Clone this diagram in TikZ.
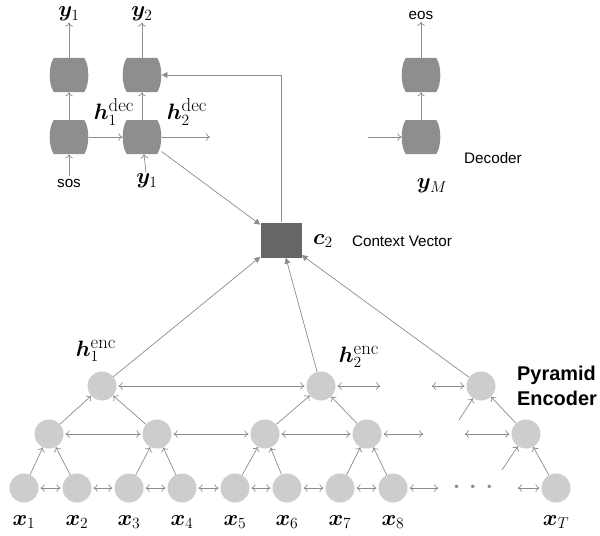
\RequirePackage{fix-cm}
\documentclass[tikz,border=0pt]{standalone}
\usepackage{fontspec}
\setsansfont{Liberation Sans}
\usepackage{bm}
\usetikzlibrary{arrows.meta}

\definecolor{linegray}{RGB}{140,140,140}
\definecolor{nodegray}{RGB}{205,205,205}
\definecolor{cellgray}{RGB}{142,142,142}
\definecolor{boxgray}{RGB}{102,102,102}

\newcommand\mathsz{\fontsize{19}{21}\selectfont}
\newcommand\textsz{\fontsize{13}{15}\selectfont\sffamily}
\newcommand\supname[1]{\mbox{\fontsize{16}{16}\selectfont #1}}

\tikzset{
  enc/.style={circle, fill=nodegray, minimum size=0.87cm, inner sep=0pt},
  % barrel shaped recurrent cell
  cell/.style={rectangle, minimum width=1.16cm, minimum height=1.02cm, inner sep=0pt,
    path picture={
      \fill[cellgray]
        ([xshift=0.12cm]path picture bounding box.north west)
        -- ([xshift=-0.12cm]path picture bounding box.north east)
        .. controls +(5.3,8) and +(5.3,-8) ..
           ([xshift=-0.12cm]path picture bounding box.south east)
        -- ([xshift=0.12cm]path picture bounding box.south west)
        .. controls +(-5.3,-8) and +(-5.3,8) ..
           ([xshift=0.12cm]path picture bounding box.north west) -- cycle;
    }},
  ctxbox/.style={rectangle, fill=boxgray, minimum width=1.23cm,
    minimum height=1.05cm, inner sep=0pt},
  mlabel/.style={inner sep=1pt, font=\mathsz},
  slabel/.style={inner sep=2pt, font=\textsz},
  feed/.style={->, draw=linegray, line width=0.6pt},
  pair/.style={<->, draw=linegray, line width=0.6pt, shorten >=1.5pt, shorten <=1.5pt},
  attn/.style={-{Triangle[length=5pt,width=5pt]}, draw=linegray, line width=0.6pt},
}

\begin{document}
\begin{tikzpicture}[x=0.03cm, y=-0.03cm, >={To[length=3.5pt,width=6.5pt]}]
  \useasboundingbox (0,0) rectangle (600,535);

  % encoder: inputs and the two pyramid levels
  \foreach \i/\x in {1/24,2/77,3/129,4/182,5/235,6/287,7/340,8/393,T/556} {
    \node[enc] (a\i) at (\x,488) {};
    \node[mlabel] (x\i) at (\x,522) {$\bm{x}_{\i}$};
  }
  \foreach \i/\x in {1/49,2/157,3/265,4/367,R/526}
    \node[enc] (b\i) at (\x,434) {};
  \node[enc] (h1) at (102,386) {};
  \node[enc] (h2) at (321,386) {};
  \node[enc] (hR) at (481,386) {};
  \node[mlabel] (he1) at (96,351) {$\bm{h}_1^{\supname{enc}}$};
  \node[mlabel] (he2) at (359,357) {$\bm{h}_2^{\supname{enc}}$};
  \node[text=linegray, font=\mathsz] (dots) at (473,487)
    {$\bm{\cdot}$\hspace{0.28cm}$\bm{\cdot}$\hspace{0.28cm}$\bm{\cdot}$};
  \node[align=left, inner sep=0pt, font=\fontsize{17}{21}\selectfont\sffamily\bfseries]
    (encname) at (557,386) {Pyramid\\Encoder};

  % loose ends of the encoder rows
  \coordinate (s0r) at (440,488);
  \coordinate (s0l) at (516,488);
  \coordinate (s1r) at (425,434);
  \coordinate (s1l) at (463,434);
  \coordinate (s2r) at (382,386);
  \coordinate (s2l) at (430,386);
  \coordinate (u1) at (502,470);
  \coordinate (u2) at (459,420);

  \foreach \i/\j in {1/2,2/3,3/4,4/5,5/6,6/7,7/8}
    \draw[pair] (a\i) -- (a\j);
  \draw[pair] (b1) -- (b2);
  \draw[pair] (b2) -- (b3);
  \draw[pair] (b3) -- (b4);
  \draw[pair] (h1) -- (h2);
  \draw[pair] (a8) -- (s0r);
  \draw[pair] (aT) -- (s0l);
  \draw[pair] (b4) -- (s1r);
  \draw[pair] (bR) -- (s1l);
  \draw[pair] (h2) -- (s2r);
  \draw[pair] (hR) -- (s2l);
  \foreach \s/\t in {a1/b1,a2/b1,a3/b2,a4/b2,a5/b3,a6/b3,a7/b4,a8/b4,aT/bR,
                     b1/h1,b2/h1,b3/h2,b4/h2,bR/hR,u1/bR,u2/hR}
    \draw[feed] (\s) -- (\t);

  % context vector
  \node[ctxbox] (ctx) at (281,240) {};
  \node[mlabel] (c2) at (323,241) {$\bm{c}_2$};
  \node[slabel] (ctxname) at (402,241) {Context Vector};

  % decoder
  \node[cell] (d1) at (69,137) {};
  \node[cell] (d1t) at (69,75) {};
  \node[cell] (d2) at (142,137) {};
  \node[cell] (d2t) at (142,75) {};
  \node[cell] (dM) at (421,137) {};
  \node[cell] (dMt) at (421,75) {};
  \node[mlabel] (y1) at (69,14) {$\bm{y}_1$};
  \node[mlabel] (y2) at (142,14) {$\bm{y}_2$};
  \node[slabel] (eos) at (421,15) {eos};
  \node[slabel] (sos) at (69,183) {sos};
  \node[mlabel] (y1in) at (147,181) {$\bm{y}_1$};
  \node[mlabel] (yM) at (432,186) {$\bm{y}_M$};
  \node[mlabel] (hd1) at (114,112) {$\bm{h}_1^{\supname{dec}}$};
  \node[mlabel] (hd2) at (187,112) {$\bm{h}_2^{\supname{dec}}$};
  \node[slabel] (decname) at (493,158) {Decoder};
  \coordinate (dout) at (210,137);
  \coordinate (din) at (368,137);

  \draw[feed] (sos) -- (d1);
  \draw[feed] (y1in) -- (d2);
  \draw[feed] (d1) -- (d2);
  \draw[feed] (d2) -- (dout);
  \draw[feed] (din) -- (dM);
  \draw[feed] (d1) -- (d1t);
  \draw[feed] (d2) -- (d2t);
  \draw[feed] (dM) -- (dMt);
  \draw[feed] (d1t) -- (y1);
  \draw[feed] (d2t) -- (y2);
  \draw[feed] (dMt) -- (eos);

  % attention
  \draw[attn] (d2) -- (ctx);
  \draw[attn] (h1) -- (ctx);
  \draw[attn] (h2) -- (ctx);
  \draw[attn] (hR) -- (ctx);
  \draw[attn] (ctx) |- (d2t);
\end{tikzpicture}
\end{document}
